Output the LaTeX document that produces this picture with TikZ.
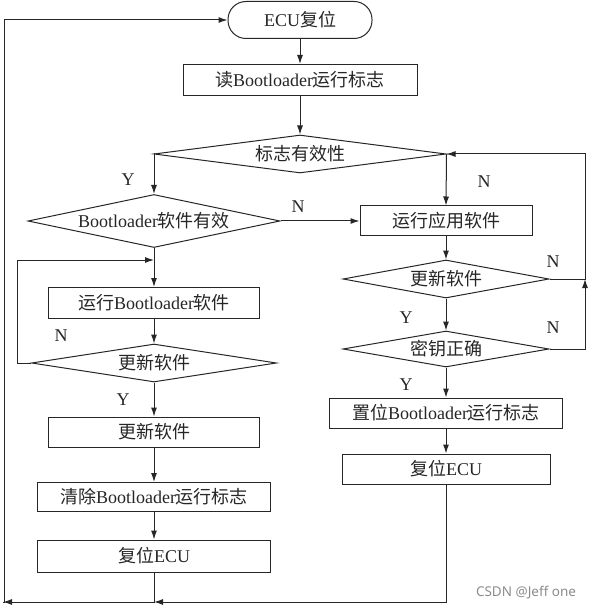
\documentclass[tikz,border=0pt]{standalone}
\usepackage{fontspec}
\setmainfont{Liberation Serif}
\newfontfamily\zhfont{Noto Sans CJK SC}
\newfontfamily\wmfont{Noto Sans}
\usetikzlibrary{arrows.meta,shapes.geometric}
\newcommand{\zh}[1]{{\zhfont #1}}
\newcommand{\dtext}[1]{\makebox[0pt]{#1}}

\begin{document}
\begin{tikzpicture}[x=1pt,y=-1pt]
                \tikzset{every node/.style = {font=\fontsize{18}{20}\selectfont,text=black!85}}
                \tikzset{process/.style = {shape=rectangle,draw=black!85,line width=1pt,inner sep=0pt}}
                \tikzset{decision/.style = {shape=diamond,draw=black!85,line width=1pt,inner sep=0pt}}
                \tikzset{terminal/.style = {shape=rectangle,draw=black!85,line width=1pt,rounded corners=18pt}}
                \tikzset{edge/.style = {->,> = {Latex[length=9pt,width=6pt]},draw=black!85,line width=1pt}}
                \useasboundingbox (0,0) rectangle (590,609);
                % vertices
                \node[terminal, minimum width=144pt, minimum height=37pt] (start) at (300,20) {ECU\zh{复位}};
                \node[process, minimum width=234pt, minimum height=31pt] (readflag) at (300,80) {\zh{读}Bootloader\zh{运行标志}};
                \node[decision, minimum width=292pt, minimum height=38pt] (flagok) at (300,154) {\dtext{\zh{标志有效性}}};

                \node[decision, minimum width=252pt, minimum height=53pt] (blvalid) at (154,221) {\dtext{Bootloader\zh{软件有效}}};
                \node[process, minimum width=211pt, minimum height=31pt] (runbl) at (154,303) {\zh{运行}Bootloader\zh{软件}};
                \node[decision, minimum width=245pt, minimum height=38pt] (updl) at (154,363) {\dtext{\zh{更新软件}}};
                \node[process, minimum width=211pt, minimum height=30pt] (updbox) at (154,432) {\zh{更新软件}};
                \node[process, minimum width=233pt, minimum height=29pt] (clrflag) at (154,497) {\zh{清除}Bootloader\zh{运行标志}};
                \node[process, minimum width=233pt, minimum height=32pt] (resetl) at (154,556) {\zh{复位}ECU};

                \node[process, minimum width=172pt, minimum height=30pt] (runapp) at (446,221) {\zh{运行应用软件}};
                \node[decision, minimum width=206pt, minimum height=38pt] (updr) at (446,279) {\dtext{\zh{更新软件}}};
                \node[decision, minimum width=206pt, minimum height=36pt] (keyok) at (446,349) {\dtext{\zh{密钥正确}}};
                \node[process, minimum width=233pt, minimum height=30pt] (setflag) at (446,413) {\zh{置位}Bootloader\zh{运行标志}};
                \node[process, minimum width=208pt, minimum height=30pt] (resetr) at (446,469) {\zh{复位}ECU};

                \coordinate (blin) at (154,260);
                \coordinate (bm) at (154,602);
                \coordinate (bl) at (3,602);
                \coordinate (tl) at (4,20);
                \coordinate (rtop) at (585,154);
                \coordinate (rmid) at (585,279);

                % labels
                \node (y1) at (128,180) {Y};
                \node (n1) at (484,182) {N};
                \node (n2) at (298,207) {N};
                \node (n3) at (61,336) {N};
                \node (y2) at (123,400) {Y};
                \node (n4) at (553,262) {N};
                \node (y3) at (406,318) {Y};
                \node (n5) at (553,328) {N};
                \node (y4) at (406,385) {Y};
                \node[font=\wmfont\fontsize{13.5}{15}\selectfont, text=black!45] (mark) at (526,593) {CSDN @Jeff one};

                %edges
                \draw[edge] (start) to (readflag);
                \draw[edge] (readflag) to (flagok);
                \draw[edge] (flagok.west) -| (blvalid.north);
                \draw[edge] (flagok.east) -- (runapp.north);
                \draw[edge] (blvalid.east) -- (runapp.west);

                \draw[edge] (blvalid.south) -- (runbl.north);
                \draw[edge] (runbl) to (updl);
                \draw[edge] (updl.west) -- ++(-14,0) |- (blin);
                \draw[edge] (updl.south) -- (updbox.north);
                \draw[edge] (updbox) to (clrflag);
                \draw[edge] (clrflag) to (resetl);
                \draw[edge] (resetl.south) -- (bm) -- (bl);
                \draw[edge] (bl) -- (tl |- bl) -- (tl) -- (start.west);

                \draw[edge] (runapp) to (updr);
                \draw[edge] (updr.south) -- (keyok.north);
                \draw[edge] (updr.east) -- (rmid) -- (rtop) -- (flagok.east);
                \draw[edge] (keyok.east) -| (rmid);
                \draw[edge] (keyok.south) -- (setflag.north);
                \draw[edge] (setflag) to (resetr);
                \draw[edge] (resetr.south) |- (bm);
            \end{tikzpicture}
\end{document}
